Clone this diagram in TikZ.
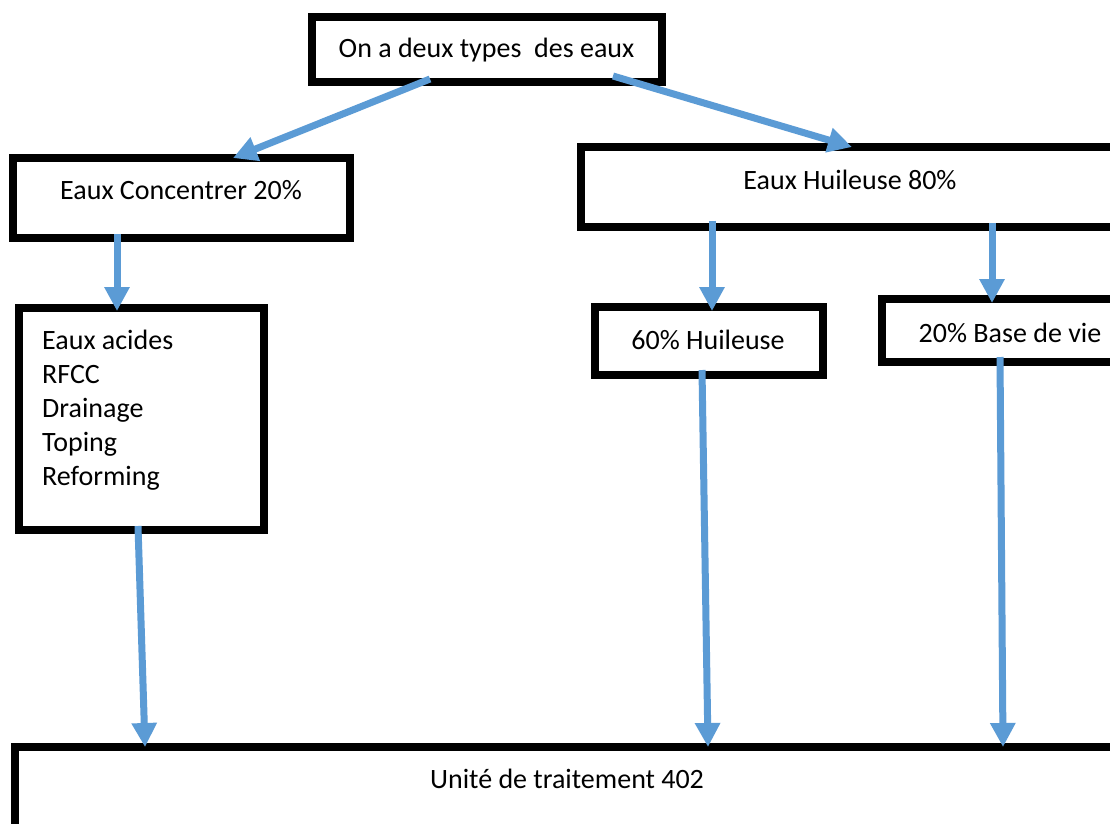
\documentclass[tikz,border=0pt]{standalone}
\usepackage{fontspec}
\setmainfont{Carlito}
\usetikzlibrary{arrows.meta,calc}
\definecolor{arrowblue}{RGB}{91,155,213}
\begin{document}
\begin{tikzpicture}[x=1pt,y=-1pt,
  box/.style={draw=black,line width=8pt,rectangle,inner sep=0pt,outer sep=0pt},
  txt/.style={font=\fontsize{28}{34}\selectfont,inner sep=0pt,text=black},
  flow/.style={draw=arrowblue,line width=7pt,-{Triangle[length=24pt,width=24pt]}}]
\useasboundingbox[clip] (0,0) rectangle (1110,823);
\fill[white] (0,0) rectangle (1110,823);
% boxes
\node[box,minimum width=350pt,minimum height=65pt] (top) at (486.5,49.5) {};
\node[box,minimum width=337pt,minimum height=80pt] (conc) at (181,198) {};
\node[box,minimum width=560pt,minimum height=80pt] (huil) at (860.5,186.5) {};
\node[box,minimum width=245pt,minimum height=222pt] (list) at (141,418.5) {};
\node[box,minimum width=228pt,minimum height=68pt] (h60) at (708.5,340.5) {};
\node[box,minimum width=260pt,minimum height=63pt] (base) at (1011.5,330) {};
\node[box,minimum width=1130pt,minimum height=200pt] (unit) at (579.5,846.5) {};
% texts
\node[txt] (ttop) at (486.5,50) {On a deux types\ \ des eaux};
\node[txt] (tconc) at (181,190) {Eaux Concentrer 20\%};
\node[txt] (thuil) at (850,180) {Eaux Huileuse 80\%};
\node[txt,align=left,anchor=north west] (tlist) at (42,330) {Eaux acides\\RFCC\\Drainage\\Toping\\Reforming};
\node[txt] (th60) at (708,340) {60\% Huileuse};
\node[txt] (tbase) at (1010,333) {20\% Base de vie};
\node[txt] (tunit) at (567,779) {Unité de traitement 402};
% arrows
\draw[flow] ([xshift=-56.5pt,yshift=3pt]top.south) -- ([xshift=52pt]conc.north);
\draw[flow] ([xshift=126.5pt,yshift=6pt]top.south) -- ([xshift=-8.5pt,yshift=-0.5pt]huil.north);
\draw[flow] ([xshift=-64pt,yshift=4pt]conc.south) -- ([xshift=-24pt,yshift=-3.5pt]list.north);
\draw[flow] ([xshift=-148.5pt,yshift=6pt]huil.south) -- ([xshift=3.5pt,yshift=-4.5pt]h60.north);
\draw[flow] ([xshift=131.5pt,yshift=3.5pt]huil.south) -- ([xshift=-19.5pt,yshift=-4.5pt]base.north);
\draw[flow] ([xshift=-3pt,yshift=3.5pt]list.south) -- ([xshift=-434.5pt,yshift=-0.5pt]unit.north);
\draw[flow] ([xshift=-6.5pt,yshift=4.5pt]h60.south) -- ([xshift=128.5pt,yshift=-0.5pt]unit.north);
\draw[flow] ([xshift=-11.5pt,yshift=4.5pt]base.south) -- ([xshift=423.5pt,yshift=-0.5pt]unit.north);
\end{tikzpicture}
\end{document}
